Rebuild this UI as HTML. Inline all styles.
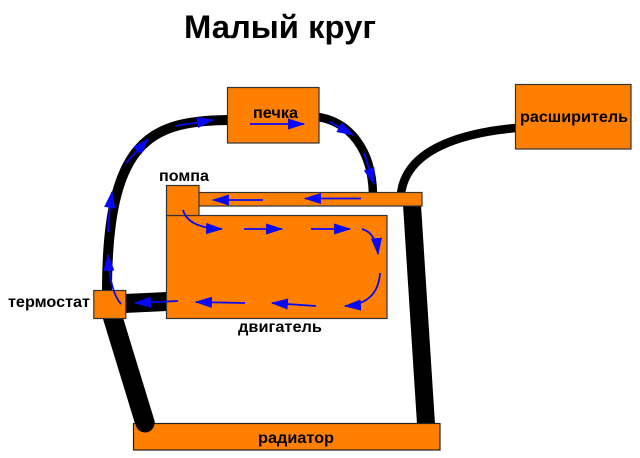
<!DOCTYPE html>
<html><head><meta charset="utf-8">
<style>html,body{margin:0;padding:0;background:#fff}svg{display:block}text{font-family:"Liberation Sans",sans-serif;font-weight:bold;fill:#000}</style>
</head><body>
<svg width="640" height="458" viewBox="0 0 640 458" xmlns="http://www.w3.org/2000/svg">
<defs><marker id="a" markerUnits="userSpaceOnUse" markerWidth="18" markerHeight="14" refX="16" refY="7" orient="auto"><path d="M0.5,2 L16,7 L0.5,12 Z" fill="#0808f5" stroke="#0808f5" stroke-width="0.8"/></marker></defs>
<text x="184" y="38" font-size="32" textLength="192" lengthAdjust="spacingAndGlyphs">Малый круг</text>
<g fill="none" stroke="#000">
<path d="M228,120 C150,121 107,140 107,292" stroke-width="10"/>
<path d="M318,117 C350,122 372,150 373,194" stroke-width="8.5"/>
<path d="M516,128 C460,133 406,150 401,194" stroke-width="8.5"/>
<path d="M112,315 L145,423" stroke-width="19.5" stroke-linecap="round"/>
</g>
<polygon points="403,205 421,205 435,424 417,424" fill="#000"/>
<polygon points="125,294 167,292 167,311 125,313" fill="#000"/>
<g fill="#ff8000" stroke="#333" stroke-width="1.2">
<rect x="227.5" y="87.5" width="91.5" height="55.5"/>
<rect x="515.5" y="84.5" width="115.5" height="64.5"/>
<rect x="198" y="192.5" width="224" height="13.5"/>
<rect x="166.5" y="215.5" width="220.5" height="103"/>
<rect x="166.5" y="185.5" width="32.5" height="30"/>
<rect x="93.8" y="290.5" width="32" height="28"/>
</g>
<rect x="133.5" y="423.5" width="306.5" height="26.5" fill="#ff8000" stroke="#222" stroke-width="1.2"/>
<circle cx="145" cy="423" r="9.5" fill="#000"/>
<g font-size="15.5">
<text x="253" y="118" textLength="45" lengthAdjust="spacingAndGlyphs">печка</text>
<text x="159" y="181" textLength="50" lengthAdjust="spacingAndGlyphs">помпа</text>
<text x="520" y="122" textLength="108" lengthAdjust="spacingAndGlyphs">расширитель</text>
<text x="238" y="332" textLength="84" lengthAdjust="spacingAndGlyphs">двигатель</text>
<text x="8" y="307" textLength="82" lengthAdjust="spacingAndGlyphs">термостат</text>
<text x="258" y="443" textLength="76" lengthAdjust="spacingAndGlyphs">радиатор</text>
</g>
<g fill="none" stroke="#0808f5" stroke-width="1.8">
<path d="M250,124 L304,124" marker-end="url(#a)"/>
<path d="M175,126 L213,120" marker-end="url(#a)"/>
<path d="M126,163 L148,139" marker-end="url(#a)"/>
<path d="M108,232 Q109,212 112,192" marker-end="url(#a)"/>
<path d="M121,304 Q110,292 108,255" marker-end="url(#a)"/>
<path d="M330,122 L353,135" marker-end="url(#a)"/>
<path d="M364,153 L374,184" marker-end="url(#a)"/>
<path d="M361,198.5 L305,198.5" marker-end="url(#a)"/>
<path d="M263,200 L213,200" marker-end="url(#a)"/>
<path d="M183,210 Q188,228 222,229" marker-end="url(#a)"/>
<path d="M244,229 L282,229" marker-end="url(#a)"/>
<path d="M311,229 L350,229" marker-end="url(#a)"/>
<path d="M362,229 Q376,233 378,254" marker-end="url(#a)"/>
<path d="M380,273 Q378,304 345,306" marker-end="url(#a)"/>
<path d="M316,306 L272,303" marker-end="url(#a)"/>
<path d="M245,303 L196,302" marker-end="url(#a)"/>
<path d="M178,301 L135,303" marker-end="url(#a)"/>
</g>
</svg>
</body></html>
